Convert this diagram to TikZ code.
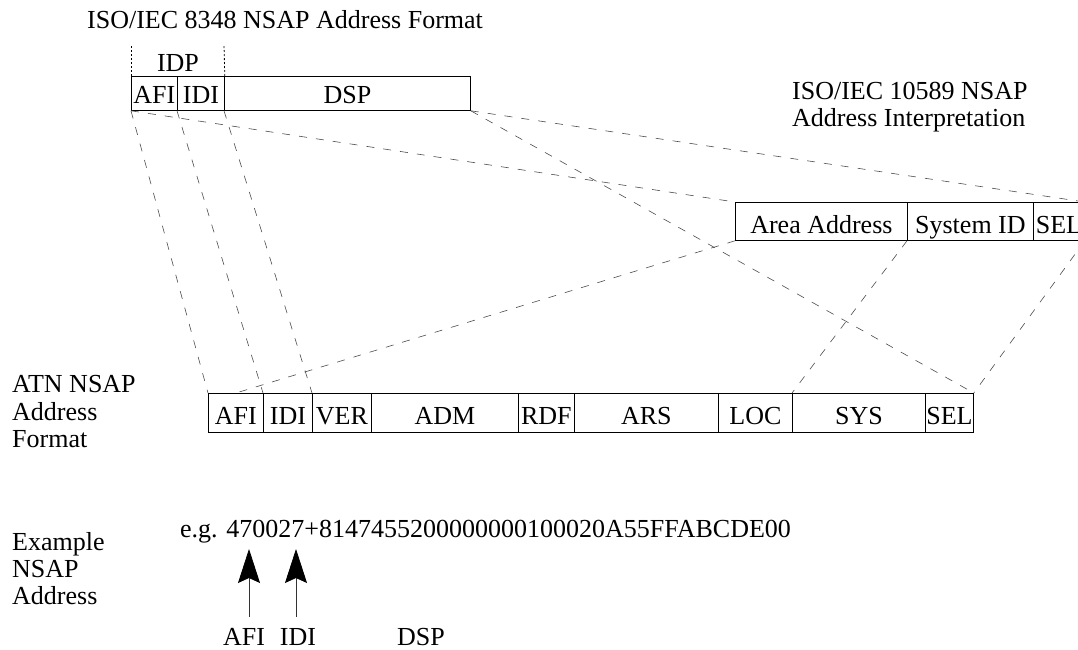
\documentclass[tikz,border=0pt]{standalone}
\usepackage{fontspec}
\setmainfont{Liberation Serif}
\usetikzlibrary{arrows.meta}
\begin{document}
\begin{tikzpicture}[x=1pt,y=-1pt,
  cell/.style={draw, line width=0.8pt, inner sep=0pt, anchor=north west, text height=25pt, text depth=1pt, font=\fontsize{26}{30}\selectfont},
  tcell/.style={cell, text height=23pt, text depth=3pt},
  lbl/.style={inner sep=0pt, font=\fontsize{26}{30}\selectfont},
  dl/.style={draw=black!70, line width=0.6pt, dash pattern=on 8pt off 9pt},
  dotl/.style={line width=0.8pt, dash pattern=on 2pt off 2pt},
  arr/.style={-{Stealth[length=34pt,width=22pt,inset=5pt,color=black]}, line width=0.8pt, draw=black!80}]
\useasboundingbox (0,0) rectangle (1078,650);

% titles
\node[lbl, anchor=base west] (title) at (87,29) {ISO/IEC 8348 NSAP Address Format};
\node[lbl, anchor=base] (idp) at (178,72) {IDP};
\node[lbl, anchor=base west] (iso1) at (792,100) {ISO/IEC 10589 NSAP};
\node[lbl, anchor=base west] (iso2) at (792,126) {Address Interpretation};

% top box
\node[tcell, minimum width=46pt, minimum height=34pt] (tafi) at (131,76) {AFI};
\node[tcell, minimum width=47pt, minimum height=34pt] (tidi) at (177,76) {IDI};
\node[tcell, minimum width=246pt, minimum height=34pt] (tdsp) at (224,76) {DSP};
\coordinate (d1) at (131,45);
\coordinate (d2) at (224,45);
\draw[dotl] (tafi.north west) -- (d1);
\draw[dotl] (tidi.north east) -- (d2);

% middle box
\node[cell, minimum width=172pt, minimum height=38pt] (marea) at (735,202) {Area Address};
\node[cell, minimum width=126pt, minimum height=38pt] (msys) at (907,202) {System ID};
\node[cell, minimum width=51pt, minimum height=38pt] (msel) at (1033,202) {SEL};

% bottom row
\node[cell, minimum width=55pt, minimum height=39pt] (bafi) at (208,393) {AFI};
\node[cell, minimum width=49pt, minimum height=39pt] (bidi) at (263,393) {IDI};
\node[cell, minimum width=59pt, minimum height=39pt] (bver) at (312,393) {VER};
\node[cell, minimum width=147pt, minimum height=39pt] (badm) at (371,393) {ADM};
\node[cell, minimum width=56pt, minimum height=39pt] (brdf) at (518,393) {RDF};
\node[cell, minimum width=144pt, minimum height=39pt] (bars) at (574,393) {ARS};
\node[cell, minimum width=74pt, minimum height=39pt] (bloc) at (718,393) {LOC};
\node[cell, minimum width=133pt, minimum height=39pt] (bsys) at (792,393) {SYS};
\node[cell, minimum width=48pt, minimum height=39pt] (bsel) at (925,393) {SEL};

% left labels
\node[lbl, anchor=base west] (atn1) at (12,392) {ATN NSAP};
\node[lbl, anchor=base west] (atn2) at (12,420) {Address};
\node[lbl, anchor=base west] (atn3) at (12,447) {Format};
\node[lbl, anchor=base west] (ex1) at (12,550) {Example};
\node[lbl, anchor=base west] (ex2) at (12,577) {NSAP};
\node[lbl, anchor=base west] (ex3) at (12,604) {Address};

% example
\node[lbl, anchor=base west] (eg) at (180,537) {e.g. 470027+8147455200000000100020A55FFABCDE00};
\coordinate (a1s) at (249,617);
\coordinate (a1t) at (249,549);
\coordinate (a2s) at (296,617);
\coordinate (a2t) at (296,549);
\draw[arr] (a1s) -- (a1t);
\draw[arr] (a2s) -- (a2t);
\node[lbl, anchor=base] (lafi) at (244,645) {AFI};
\node[lbl, anchor=base] (lidi) at (298,645) {IDI};
\node[lbl, anchor=base] (ldsp) at (421,645) {DSP};

% dashed mapping lines
\draw[dl] (tafi.south west) -- (bafi.north west);
\draw[dl] (tidi.south west) -- (bidi.north west);
\draw[dl] (tdsp.south west) -- (bver.north west);
\draw[dl] (tafi.south west) -- (marea.north west);
\draw[dl] (tdsp.south east) -- (msel.north east);
\draw[dl] (tdsp.south east) -- (bsel.north east);
\draw[dl] (marea.south west) -- (bafi.north);
\draw[dl] (msys.south west) -- (bsys.north west);
\draw[dl] (msel.south east) -- (bsel.north east);
\end{tikzpicture}
\end{document}
